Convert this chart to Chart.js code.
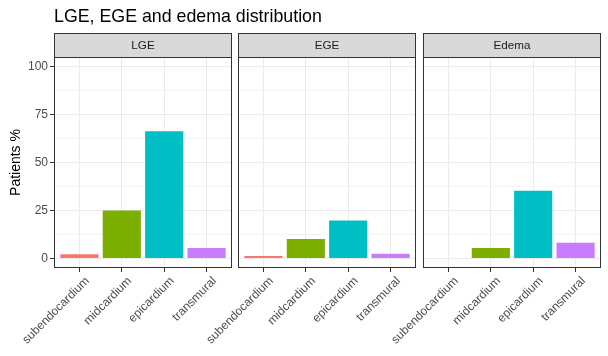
<!DOCTYPE html>
<html>
<head>
<meta charset="utf-8">
<script src="https://cdn.jsdelivr.net/npm/chart.js@4/dist/chart.umd.min.js"></script>
<style>
  html, body { margin:0; padding:0; background:#fff; }
  #wrap { position:relative; width:608px; height:356px; overflow:hidden; }
  canvas { position:absolute; left:0; top:0; }
</style>
</head>
<body>
<div id="wrap">
  <canvas id="c1" width="608" height="356"></canvas>
  <canvas id="c2" width="608" height="356"></canvas>
  <canvas id="c3" width="608" height="356"></canvas>
</div>
<script>
const chartTitle = "LGE, EGE and edema distribution";
const yAxisTitle = "Patients %";
const facets = ["LGE", "EGE", "Edema"];
const categories = ["subendocardium", "midcardium", "epicardium", "transmural"];
const lgeValues = [2.2, 25.0, 66.3, 5.4];
const egeValues = [1.2, 10.1, 19.7, 2.4];
const edemaValues = [0, 5.4, 35.3, 8.2];
const yTicks = [0, 25, 50, 75, 100];
const yMinorTicks = [12.5, 37.5, 62.5, 87.5];
const barColors = ["#F8766D", "#7CAE00", "#00BFC4", "#C77CFF"];

const FONT = "'Liberation Sans', Arial, sans-serif";
const seriesValues = [lgeValues, egeValues, edemaValues];
const panels = [
  { left: 54, right: 232 },
  { left: 238, right: 416 },
  { left: 423, right: 601 }
];
const stripTop = 33, panelTop = 57, panelBottom = 268, W = 608, H = 356;

const facetPlugin = {
  id: 'facetDecor',
  afterDraw(chart, args, opts) {
    const ctx = chart.ctx;
    const a = chart.chartArea;
    ctx.save();
    ctx.fillStyle = '#D9D9D9';
    ctx.fillRect(a.left, stripTop, a.right - a.left, a.top - stripTop);
    ctx.strokeStyle = '#333333';
    ctx.lineWidth = 1;
    ctx.strokeRect(Math.round(a.left) + 0.5, stripTop + 0.5, Math.round(a.right - a.left) - 1, a.top - stripTop);
    ctx.fillStyle = '#1A1A1A';
    ctx.font = '11.7px ' + FONT;
    ctx.textAlign = 'center';
    ctx.textBaseline = 'middle';
    ctx.fillText(opts.label, (a.left + a.right) / 2, (stripTop + a.top) / 2 + 1);
    ctx.strokeStyle = '#333333';
    ctx.strokeRect(Math.round(a.left) + 0.5, Math.round(a.top) + 0.5, Math.round(a.right - a.left) - 1, Math.round(a.bottom - a.top) - 1);
    if (opts.title) {
      ctx.fillStyle = '#000000';
      ctx.font = '17.8px ' + FONT;
      ctx.textAlign = 'left';
      ctx.textBaseline = 'alphabetic';
      ctx.fillText(opts.title, a.left, 22);
    }
    ctx.restore();
  }
};

function makeChart(id, idx) {
  const first = idx === 0;
  const p = panels[idx];
  const vals = seriesValues[idx];
  return new Chart(document.getElementById(id), {
    type: 'bar',
    data: {
      datasets: [{
        data: categories.map((c, i) => ({ x: i + 1, y: vals[i] })),
        backgroundColor: barColors,
        borderWidth: 0,
        barPercentage: 0.9,
        categoryPercentage: 1.0
      }]
    },
    plugins: [facetPlugin],
    options: {
      responsive: false,
      animation: false,
      events: [],
      layout: { padding: { left: first ? 0 : p.left, right: W - p.right, top: panelTop, bottom: 0 } },
      plugins: {
        legend: { display: false },
        tooltip: { enabled: false },
        title: { display: false },
        facetDecor: { label: facets[idx], title: first ? chartTitle : null }
      },
      scales: {
        x: {
          type: 'linear',
          offset: false,
          min: 0.4,
          max: 4.6,
          afterBuildTicks: s => { s.ticks = categories.map((c, i) => ({ value: i + 1 })); },
          afterFit: s => { s.height = H - panelBottom; },
          border: { display: false },
          grid: { offset: false, color: '#EBEBEB', lineWidth: 1, tickColor: '#333333', tickLength: 4, tickWidth: 1 },
          ticks: {
            autoSkip: false,
            maxRotation: 45,
            minRotation: 45,
            padding: 2,
            labelOffset: 8,
            color: '#4D4D4D',
            font: { family: FONT, size: 12 },
            callback: v => categories[Math.round(v) - 1] || ''
          }
        },
        y: {
          type: 'linear',
          min: -5,
          max: 105,
          afterBuildTicks: s => {
            s.ticks = yTicks.concat(yMinorTicks).sort((a, b) => a - b).map(v => ({ value: v }));
          },
          afterFit: s => { s.width = first ? p.left : 0; },
          border: { display: false },
          grid: {
            color: '#EBEBEB',
            lineWidth: c => (yTicks.includes(c.tick && c.tick.value) ? 1 : 0.5),
            drawTicks: first,
            tickLength: 4,
            tickWidth: 1,
            tickColor: c => (yTicks.includes(c.tick && c.tick.value) ? '#333333' : 'rgba(0,0,0,0)')
          },
          ticks: {
            display: first,
            padding: 2,
            color: '#4D4D4D',
            font: { family: FONT, size: 12 },
            callback: v => (yTicks.includes(v) ? String(v) : '')
          },
          title: {
            display: first,
            text: yAxisTitle,
            color: '#000000',
            font: { family: FONT, size: 14 },
            padding: { top: 8, bottom: 4 }
          }
        }
      }
    }
  });
}

makeChart('c1', 0);
makeChart('c2', 1);
makeChart('c3', 2);
</script>
</body>
</html>
